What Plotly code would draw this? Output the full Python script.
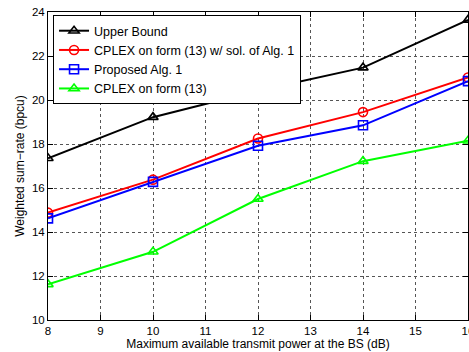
import plotly.graph_objects as go

power_db = [8, 10, 12, 14, 16]
upper_bound = [17.35, 19.22, 20.42, 21.47, 23.64]
cplex_with_alg1 = [14.88, 16.38, 18.25, 19.45, 21.02]
proposed_alg1 = [14.62, 16.28, 17.92, 18.85, 20.86]
cplex_form13 = [11.62, 13.1, 15.5, 17.22, 18.15]

series = [
    ("Upper Bound", upper_bound, "black", "triangle-up-open"),
    ("CPLEX on form (13) w/ sol. of Alg. 1", cplex_with_alg1, "#ff0000", "circle-open"),
    ("Proposed Alg. 1", proposed_alg1, "#0000ff", "square-open"),
    ("CPLEX on form (13)", cplex_form13, "#00ff00", "triangle-up-open"),
]

fig = go.Figure()
for name, ys, color, sym in series:
    fig.add_trace(go.Scatter(
        x=power_db, y=ys, name=name, mode="lines+markers",
        line=dict(color=color, width=2),
        marker=dict(symbol=sym, size=9, color=color, line=dict(width=1.6, color=color)),
    ))

font = "Liberation Sans, Arial, sans-serif"
fig.update_layout(
    width=469, height=352,
    margin=dict(l=48, r=1, t=12, b=32),
    paper_bgcolor="white", plot_bgcolor="white",
    font=dict(family=font, size=12, color="black"),
    showlegend=True,
    legend=dict(
        x=0.012, y=0.99, xanchor="left", yanchor="top",
        bordercolor="black", borderwidth=1, bgcolor="white",
        font=dict(size=12.5), tracegroupgap=0, itemwidth=30,
    ),
)
axis_common = dict(
    showline=True, linecolor="black", linewidth=1, mirror="ticks",
    ticks="inside", ticklen=5, tickcolor="black",
    showgrid=True, gridcolor="#555555", griddash="dot", gridwidth=1,
    zeroline=False, tickfont=dict(size=11.5), ticklabeloverflow="allow",
    automargin=False,
)
fig.update_xaxes(range=[8, 16], dtick=1,
                 title=dict(text="Maximum available transmit power at the BS (dB)", font=dict(size=12), standoff=2),
                 **axis_common)
fig.update_yaxes(range=[10, 24], dtick=2,
                 title=dict(text="Weighted sum−rate (bpcu)", font=dict(size=12), standoff=4),
                 **axis_common)

fig.write_html("out.html", config={"displayModeBar": False},
               post_script="document.body.style.margin='0';")
